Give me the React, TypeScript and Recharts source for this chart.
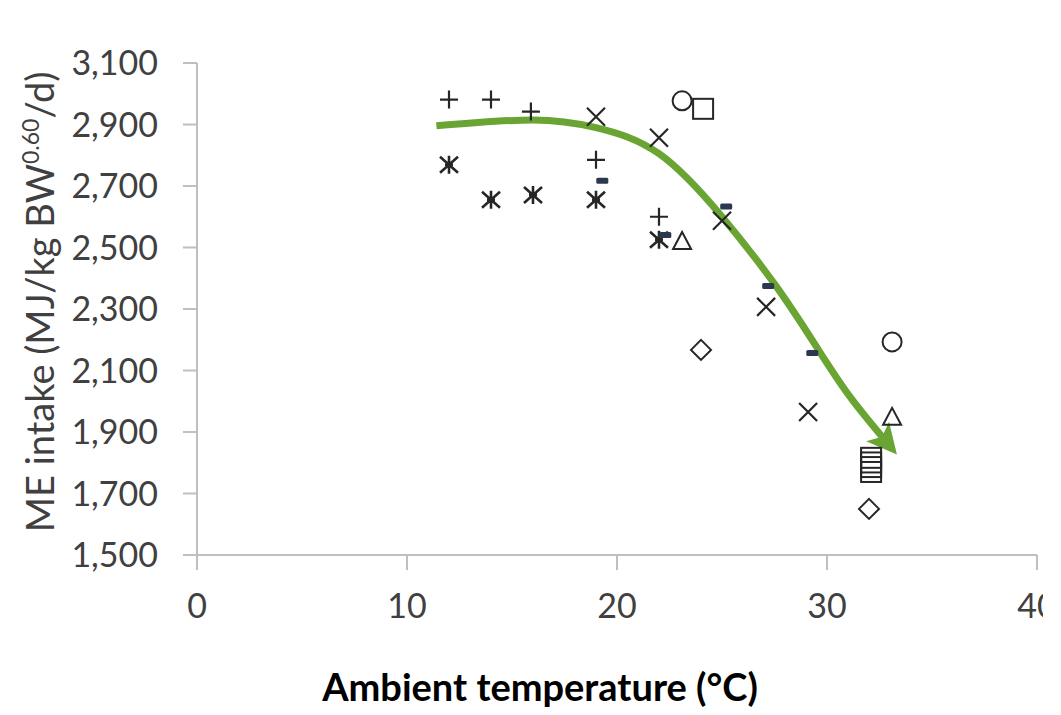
import { ComposedChart, XAxis, YAxis, Scatter, Line } from "recharts";

// ME intake vs ambient temperature, one marker style per study
const PLUS_PTS = [
  { x: 12, y: 2981 },
  { x: 14, y: 2981 },
  { x: 15.9, y: 2942 },
  { x: 19, y: 2785 },
  { x: 22, y: 2600 },
];
const CROSS_PTS = [
  { x: 19, y: 2925 },
  { x: 22, y: 2857 },
  { x: 25, y: 2587 },
  { x: 27.1, y: 2307 },
  { x: 29.1, y: 1965 },
];
const STAR_PTS = [
  { x: 12, y: 2769 },
  { x: 14, y: 2655 },
  { x: 16, y: 2671 },
  { x: 19, y: 2655 },
  { x: 22, y: 2525 },
];
const DASH_PTS = [
  { x: 19.3, y: 2717 },
  { x: 22.3, y: 2541 },
  { x: 25.2, y: 2633 },
  { x: 27.2, y: 2375 },
  { x: 29.3, y: 2157 },
];
const CIRCLE_PTS = [
  { x: 23.1, y: 2977 },
  { x: 33.1, y: 2193 },
];
const SQUARE_PTS = [
  { x: 24.1, y: 2951 },
  { x: 32.1, y: 1816 },
  { x: 32.1, y: 1801 },
  { x: 32.1, y: 1786 },
  { x: 32.1, y: 1770 },
];
const TRIANGLE_PTS = [
  { x: 23.1, y: 2518 },
  { x: 33.1, y: 1946 },
];
const DIAMOND_PTS = [
  { x: 24, y: 2167 },
  { x: 32, y: 1650 },
];

// hand-drawn trend arrow
const TREND_PTS = [
  { x: 11.4, y: 2896 },
  { x: 16, y: 2915 },
  { x: 19, y: 2890 },
  { x: 22, y: 2805 },
  { x: 25, y: 2600 },
  { x: 27.6, y: 2372 },
  { x: 29.5, y: 2177 },
  { x: 31.1, y: 2014 },
  { x: 32.9, y: 1862 },
];

const X_TICKS = [0, 10, 20, 30, 40];
const Y_TICKS = [1500, 1700, 1900, 2100, 2300, 2500, 2700, 2900, 3100];

const INK = "#262626";
const GREEN = "#6aa534";
const AXIS = "#bfbfbf";
const TEXT = "#404040";

const PlusShape = ({ cx, cy }: any) => (
  <path d={`M${cx - 9},${cy}H${cx + 9}M${cx},${cy - 9}V${cy + 9}`} stroke={INK} strokeWidth={2.2} fill="none" />
);

const CrossShape = ({ cx, cy }: any) => (
  <path
    d={`M${cx - 9},${cy - 9}L${cx + 9},${cy + 9}M${cx - 9},${cy + 9}L${cx + 9},${cy - 9}`}
    stroke={INK}
    strokeWidth={2.2}
    fill="none"
  />
);

const StarShape = ({ cx, cy }: any) => (
  <path
    d={`M${cx - 9},${cy - 8}L${cx + 9},${cy + 8}M${cx - 9},${cy + 8}L${cx + 9},${cy - 8}M${cx},${cy - 9}V${cy + 9}M${cx - 4},${cy}H${cx + 4}`}
    stroke={INK}
    strokeWidth={2.6}
    fill="none"
  />
);

const DashShape = ({ cx, cy }: any) => (
  <rect x={cx - 6} y={cy - 3} width={12} height={6} rx={1.5} fill="#2b3850" />
);

const CircleShape = ({ cx, cy }: any) => (
  <circle cx={cx} cy={cy} r={9.5} stroke={INK} strokeWidth={2} fill="none" />
);

const SquareShape = ({ cx, cy }: any) => (
  <rect x={cx - 10} y={cy - 10} width={20} height={20} stroke={INK} strokeWidth={2} fill="none" />
);

const TriangleShape = ({ cx, cy }: any) => (
  <path d={`M${cx},${cy - 10}L${cx + 9},${cy + 7}L${cx - 9},${cy + 7}Z`} stroke={INK} strokeWidth={2} fill="none" />
);

const DiamondShape = ({ cx, cy }: any) => (
  <path d={`M${cx},${cy - 10}L${cx + 10},${cy}L${cx},${cy + 10}L${cx - 10},${cy}Z`} stroke={INK} strokeWidth={2} fill="none" />
);

const XTitle = ({ viewBox }: any) => (
  <text
    x={viewBox.x + 343}
    y={viewBox.y + 146}
    textAnchor="middle"
    fontFamily="Lato"
    fontWeight={700}
    fontSize={38}
    fill="#000"
  >
    Ambient temperature (°C)
  </text>
);

const YTitle = ({ viewBox }: any) => {
  const x = viewBox.x + 54;
  const y = 302;
  return (
    <text x={x} y={y} transform={`rotate(-90 ${x} ${y})`} textAnchor="middle" fontFamily="Lato" fontSize={38} fill={TEXT}>
      ME intake (MJ/kg BW
      <tspan fontSize={23} dy={-15}>
        0.60
      </tspan>
      <tspan dy={15}>/d)</tspan>
    </text>
  );
};

export default function App() {
  return (
    <div style={{ position: "absolute", left: 0, top: 0, width: 1061, height: 715, background: "#fff" }}>
      <div style={{ width: 1043, height: 715, overflow: "hidden" }}>
        <ComposedChart
          width={1100}
          height={715}
          margin={{ top: 63, right: 63, bottom: 0, left: 0 }}
          style={{ fontFamily: "Lato" }}
        >
          <defs>
            <marker
              id="trendArrow"
              markerUnits="userSpaceOnUse"
              markerWidth={30}
              markerHeight={30}
              viewBox="0 0 30 30"
              refX={16}
              refY={15}
              orient="auto"
            >
              <path d="M0,0 L30,15 L0,30 L7,15 Z" fill={GREEN} />
            </marker>
          </defs>
          <XAxis
            type="number"
            dataKey="x"
            domain={[0, 40]}
            ticks={X_TICKS}
            interval={0}
            height={160}
            axisLine={{ stroke: AXIS, strokeWidth: 2 }}
            tickLine={{ stroke: AXIS, strokeWidth: 2 }}
            tickSize={15}
            tickMargin={24}
            tick={{ fill: TEXT, fontSize: 34, fontFamily: "Lato" }}
            label={<XTitle />}
          />
          <YAxis
            type="number"
            dataKey="y"
            domain={[1500, 3100]}
            ticks={Y_TICKS}
            interval={0}
            width={197}
            axisLine={{ stroke: AXIS, strokeWidth: 2 }}
            tickLine={{ stroke: AXIS, strokeWidth: 2 }}
            tickSize={14}
            tickMargin={25}
            tick={{ fill: TEXT, fontSize: 34, fontFamily: "Lato" }}
            tickFormatter={(v: number) => v.toLocaleString("en-US")}
            label={<YTitle />}
          />
          <Scatter data={PLUS_PTS} shape={PlusShape} isAnimationActive={false} />
          <Scatter data={CROSS_PTS} shape={CrossShape} isAnimationActive={false} />
          <Scatter data={STAR_PTS} shape={StarShape} isAnimationActive={false} />
          <Scatter data={CIRCLE_PTS} shape={CircleShape} isAnimationActive={false} />
          <Scatter data={SQUARE_PTS} shape={SquareShape} isAnimationActive={false} />
          <Scatter data={TRIANGLE_PTS} shape={TriangleShape} isAnimationActive={false} />
          <Scatter data={DIAMOND_PTS} shape={DiamondShape} isAnimationActive={false} />
          <Scatter data={DASH_PTS} shape={DashShape} isAnimationActive={false} />
          <Line
            data={TREND_PTS}
            dataKey="y"
            type="natural"
            stroke={GREEN}
            strokeWidth={7}
            dot={false}
            activeDot={false}
            markerEnd="url(#trendArrow)"
            isAnimationActive={false}
          />
        </ComposedChart>
      </div>
    </div>
  );
}
